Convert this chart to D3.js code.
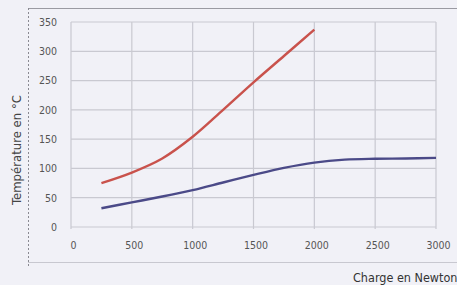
<!DOCTYPE html>
<html><head><meta charset="utf-8">
<script src="https://cdn.jsdelivr.net/npm/d3@7"></script>
<style>
html,body{margin:0;padding:0;background:#f1f1f7;}
svg{display:block;}
</style></head>
<body>
<svg id="c" width="457" height="285"></svg>
<script>
const xTicks = [0, 500, 1000, 1500, 2000, 2500, 3000];
const yTicks = [0, 50, 100, 150, 200, 250, 300, 350];
const redX = [250, 500, 750, 1000, 1250, 1500, 1750, 2000];
const redY = [75, 93, 117, 154, 200, 247, 292, 337];
const blueX = [250, 500, 750, 1000, 1250, 1500, 1750, 2000, 2250, 2500, 2750, 3000];
const blueY = [32, 42, 52, 63, 76, 89, 101, 110, 115, 116.5, 117, 118];
const xTitle = "Charge en Newton";
const yTitle = "Température en °C";

const svg = d3.select("#c");
const x = d3.scaleLinear().domain([0, 3000]).range([71, 436]);
const y = d3.scaleLinear().domain([0, 350]).range([227, 22]);

// frame decorations
svg.append("line").attr("x1",28).attr("x2",457).attr("y1",8.5).attr("y2",8.5)
  .attr("stroke","#9a9aa2").attr("stroke-width",1);
svg.append("line").attr("x1",28.5).attr("x2",28.5).attr("y1",8).attr("y2",266)
  .attr("stroke","#8a8a92").attr("stroke-width",1).attr("stroke-dasharray","2,2");
svg.append("line").attr("x1",28).attr("x2",457).attr("y1",262.5).attr("y2",262.5)
  .attr("stroke","#c8c8d0").attr("stroke-width",1);

// grid
const g = svg.append("g");
g.selectAll(".gx").data(xTicks).join("line")
  .attr("x1",d=>x(d)).attr("x2",d=>x(d)).attr("y1",y(350)).attr("y2",y(0)+2)
  .attr("stroke","#c9c9d1").attr("stroke-width",1.2);
g.selectAll(".gy").data(yTicks).join("line")
  .attr("x1",x(0)).attr("x2",x(3000)).attr("y1",d=>y(d)).attr("y2",d=>y(d))
  .attr("stroke","#c9c9d1").attr("stroke-width",1.2);

// axes (labels only)
const tickFont = "'DejaVu Sans Condensed', 'DejaVu Sans', sans-serif";
const xAxis = svg.append("g").attr("transform",`translate(2,${y(0)+12})`)
  .call(d3.axisBottom(x).tickValues(xTicks).tickSize(0).tickFormat(d3.format("d")));
xAxis.select(".domain").remove();
xAxis.selectAll("text").attr("fill","#555").attr("font-size","10.5px").attr("font-family",tickFont);
const yAxis = svg.append("g").attr("transform",`translate(${x(0)-11},0)`)
  .call(d3.axisLeft(y).tickValues(yTicks).tickSize(0).tickFormat(d3.format("d")));
yAxis.select(".domain").remove();
yAxis.selectAll("text").attr("fill","#555").attr("font-size","10.5px").attr("font-family",tickFont);

// lines
const line = d3.line().x(d=>x(d[0])).y(d=>y(d[1])).curve(d3.curveCatmullRom.alpha(0.5));
svg.append("path").datum(redX.map((v,i)=>[v,redY[i]])).attr("d",line)
  .attr("fill","none").attr("stroke","#c9524c").attr("stroke-width",2.4);
svg.append("path").datum(blueX.map((v,i)=>[v,blueY[i]])).attr("d",line)
  .attr("fill","none").attr("stroke","#4b4a88").attr("stroke-width",2.4);

// titles
const titleFont = "'Liberation Sans Narrow', 'DejaVu Sans Condensed', sans-serif";
svg.append("text").attr("x",353).attr("y",282).text(xTitle)
  .attr("font-size","12.5px").attr("fill","#333").attr("font-family",titleFont);
svg.append("text").attr("transform","translate(21,150) rotate(-90)")
  .attr("text-anchor","middle").text(yTitle)
  .attr("font-size","13px").attr("fill","#444").attr("font-family",titleFont);
</script>
</body></html>
